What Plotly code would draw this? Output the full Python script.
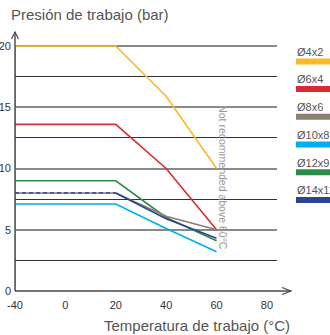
import plotly.graph_objects as go

# ---- data ----
categories = ["-40", "0", "20", "40", "60", "80"]
temps = ["-40", "20", "40", "60"]
series_names = ["Ø4x2", "Ø6x4", "Ø8x6", "Ø10x8", "Ø12x9", "Ø14x11"]
p_4x2 = [20, 20, 15.9, 10]
p_6x4 = [13.6, 13.6, 10, 5]
p_8x6 = [8, 8, 6.1, 5]
p_10x8 = [7.1, 7.1, 5.1, 3.2]
p_12x9 = [9, 9, 6, 4.1]
p_14x11 = [8, 8, 5.9, 4.3]
y_ticks = [0, 5, 10, 15, 20]
y_title = "Presión de trabajo (bar)"
x_title = "Temperatura de trabajo (°C)"
note = "Not recommended above 60°C"

colors = ["#FDB827", "#D92B32", "#8C8070", "#00AEEF", "#2A8C48", "#2C4592"]
values = [p_4x2, p_6x4, p_8x6, p_10x8, p_12x9, p_14x11]

W, H = 330, 335
L, R, T, B = 15, 53, 44, 44
PW, PH = W - L - R, H - T - B


def px(x):
    return (x - L) / PW


def py(y):
    return (H - B - y) / PH


fig = go.Figure()

# draw order: orange, red, green, cyan, grey, navy
order = [0, 1, 4, 3, 2]
for i in order:
    fig.add_trace(go.Scatter(x=temps, y=values[i], mode="lines", name=series_names[i],
                             line=dict(color=colors[i], width=1.6), showlegend=False,
                             hoverinfo="skip"))
# navy: dashed over the flat part, solid on the slope
fig.add_trace(go.Scatter(x=temps[:2], y=p_14x11[:2], mode="lines", name=series_names[5],
                         line=dict(color=colors[5], width=1.6, dash="4px,3px"), showlegend=False))
fig.add_trace(go.Scatter(x=temps[1:], y=p_14x11[1:], mode="lines", name=series_names[5],
                         line=dict(color=colors[5], width=1.6), showlegend=False))

shapes = []
# vertical grid lines
for c in categories[1:]:
    dark = c in ("20", "60")
    shapes.append(dict(type="line", xref="x", yref="y", x0=c, x1=c, y0=0, y1=20,
                       line=dict(color="#333333" if dark else "#8a8a8a", width=1 if dark else 1.6),
                       layer="below"))
# axes lines with arrows
ax_col = "#4a4a4a"
shapes.append(dict(type="line", xref="paper", yref="paper", x0=px(15), x1=px(15), y0=py(291), y1=py(32),
                   line=dict(color=ax_col, width=1.4)))
shapes.append(dict(type="path", xref="paper", yref="paper",
                   path=f"M {px(11.5)} {py(39)} L {px(15)} {py(32)} L {px(18.5)} {py(39)}",
                   line=dict(color=ax_col, width=1.2)))
shapes.append(dict(type="line", xref="paper", yref="paper", x0=px(15), x1=px(291), y0=py(291), y1=py(291),
                   line=dict(color=ax_col, width=1.4)))
shapes.append(dict(type="path", xref="paper", yref="paper",
                   path=f"M {px(282)} {py(287.5)} L {px(291)} {py(291)} L {px(282)} {py(294.5)}",
                   line=dict(color=ax_col, width=1.2)))

annotations = []
# custom legend
for k, (name, col) in enumerate(zip(series_names, colors)):
    ty = 51.7 + k * 27.7
    annotations.append(dict(xref="paper", yref="paper", x=px(295), y=py(ty), text=name,
                            showarrow=False, xanchor="left", yanchor="middle",
                            font=dict(size=11, color="#555555", family="Liberation Sans")))
    by = ty + 9.7
    shapes.append(dict(type="rect", xref="paper", yref="paper", x0=px(296), x1=px(331),
                       y0=py(by - 3), y1=py(by + 3), line=dict(width=0), fillcolor=col))

annotations.append(dict(xref="paper", yref="paper", x=px(9), y=py(15), text=y_title, showarrow=False,
                        xanchor="left", yanchor="middle",
                        font=dict(size=15, color="#555555", family="Liberation Sans")))
annotations.append(dict(xref="paper", yref="paper", x=px(197), y=py(325), text=x_title, showarrow=False,
                        xanchor="center", yanchor="middle",
                        font=dict(size=15, color="#555555", family="Liberation Sans")))
annotations.append(dict(xref="x", yref="y", x=4, y=9.25, text=note, showarrow=False, textangle=90,
                        xshift=7, xanchor="center", yanchor="middle",
                        font=dict(size=10.5, color="#999999", family="Liberation Sans")))

fig.update_layout(
    width=W, height=H, margin=dict(l=L, r=R, t=T, b=B, autoexpand=False),
    paper_bgcolor="white", plot_bgcolor="white",
    showlegend=False, shapes=shapes, annotations=annotations,
    xaxis=dict(type="category", categoryorder="array", categoryarray=categories,
               tickvals=categories, ticktext=categories, automargin=False, ticklabelstandoff=6,
               range=[0, 5.2], showgrid=False, zeroline=False, showline=False, ticks="",
               tickfont=dict(size=11, color="#333333", family="Liberation Sans"), fixedrange=True),
    yaxis=dict(range=[0, 20 * PH / 245], tickvals=y_ticks, showgrid=True, gridcolor="#8a8a8a",
               gridwidth=1.6, zeroline=False, showline=False, ticks="", automargin=False,
               ticklabelstandoff=3,
               minor=dict(dtick=2.5, tick0=0, showgrid=True, gridcolor="#333333", gridwidth=1),
               tickfont=dict(size=11, color="#333333", family="Liberation Sans"), fixedrange=True),
)

fig.write_html("out.html", config={"displayModeBar": False},
               post_script="document.body.style.margin='0px';document.body.style.overflow='hidden';")
